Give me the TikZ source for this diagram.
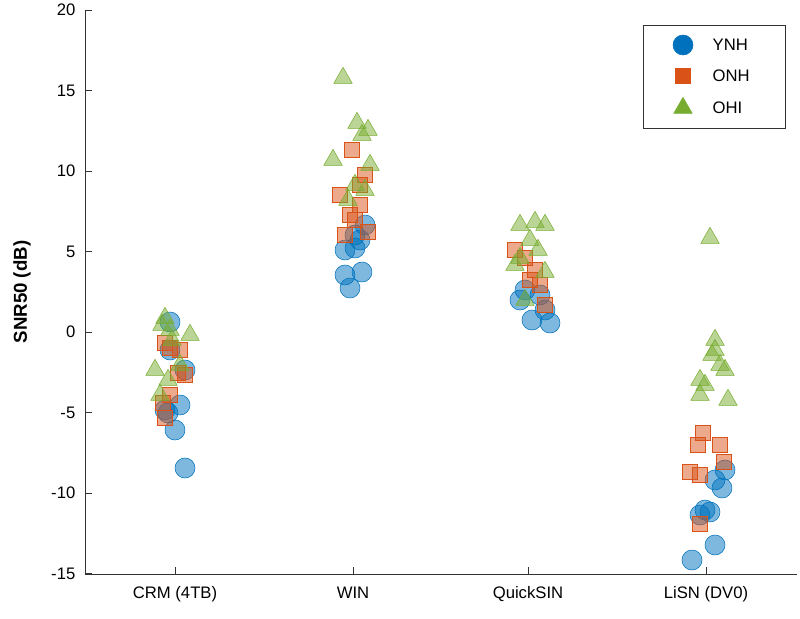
\documentclass[tikz,border=0pt]{standalone}
\usepackage{fontspec}
\setmainfont{Liberation Sans}
\definecolor{ynh}{RGB}{0,114,189}
\definecolor{onh}{RGB}{217,83,25}
\definecolor{ohi}{RGB}{119,172,48}
\tikzset{
  circ/.style={circle,draw=ynh,fill=ynh,fill opacity=0.5,draw opacity=1,minimum size=15pt,inner sep=0pt},
  sq/.style={rectangle,draw=onh,fill=onh,fill opacity=0.5,minimum size=11pt,inner sep=0pt},
  tri/.style={regular polygon,regular polygon sides=3,draw=ohi,fill=ohi,fill opacity=0.5,minimum size=16pt,inner sep=0pt},
  solid/.style={fill opacity=1},
  lbl/.style={font=\fontsize{12.5}{14}\selectfont}
}
\usetikzlibrary{shapes.geometric}
\begin{document}
\begin{tikzpicture}[x=0.75pt,y=-0.75pt]
  \useasboundingbox (0,0) rectangle (800,618);
  % axes
  \draw[black!80] (85,10) -- (85,574) -- (797,574);
  \foreach \v/\t in {20/20,15/15,10/10,5/5,0/0,-5/-5,-10/-10,-15/-15}{
    \draw[black!80] (85,{332-16.1*\v}) -- (92,{332-16.1*\v});
    \node[lbl,anchor=east] at (80,{332-16.1*\v}) {\t};
  }
  \foreach \x/\t in {175/CRM (4TB),353/WIN,528/QuickSIN,706/LiSN (DV0)}{
    \draw[black!80] (\x,574) -- (\x,567);
    \node[lbl,anchor=north] at (\x,582) {\t};
  }
  \node[rotate=90,font=\bfseries\fontsize{14}{16}\selectfont] at (22,292) {SNR50 (dB)};
  % YNH
  \foreach \x/\y in {170/322,165/410,168/413,180/405,175/430,185/468,185/370,170/350,
    345/250,355/248,345/275,350/288,362/272,360/240,365/225,355/235,
    520/300,525/290,532/320,545/310,550/323,540/295,
    692/560,700/515,710/512,715/480,722/488,725/470,715/545,705/510}
    \node[circ] at (\x,\y) {};
  % ONH
  \foreach \x/\y in {165/343,170/348,180/350,185/375,170/395,163/403,165/418,178/373,
    352/150,340/195,360/185,365/175,350/215,360/205,345/235,368/232,355/220,
    515/250,530/280,540/285,545/305,535/270,525/258,
    700/524,690/472,700/475,703/433,720/445,698/445,724/462}
    \node[sq] at (\x,\y) {};
  % OHI
  \foreach \x/\y in {165/318,162/325,190/335,170/330,155/370,168/380,160/395,180/365,172/340,
    343/78,333/160,357/123,368/130,362/135,370/165,348/200,355/185,365/190,
    520/225,535/222,545/225,530/240,520/258,538/250,545/272,525/300,515/265,
    710/238,715/340,712/355,720/365,725/370,700/380,705/385,700/395,728/400,715/350}
    \node[tri] at (\x,\y) {};
  % legend
  \node[draw=black!80,fill=white,minimum width=142*0.75pt,minimum height=103*0.75pt,anchor=north west] (leg) at (643,25) {};
  \node[circ,solid] (l1) at (683,45) {};
  \node[sq,solid] (l2) at (683,76) {};
  \node[tri,solid] (l3) at (683,108) {};
  \node[lbl,anchor=west] at (708,45) {YNH};
  \node[lbl,anchor=west] at (708,76) {ONH};
  \node[lbl,anchor=west] at (708,108) {OHI};
\end{tikzpicture}
\end{document}
